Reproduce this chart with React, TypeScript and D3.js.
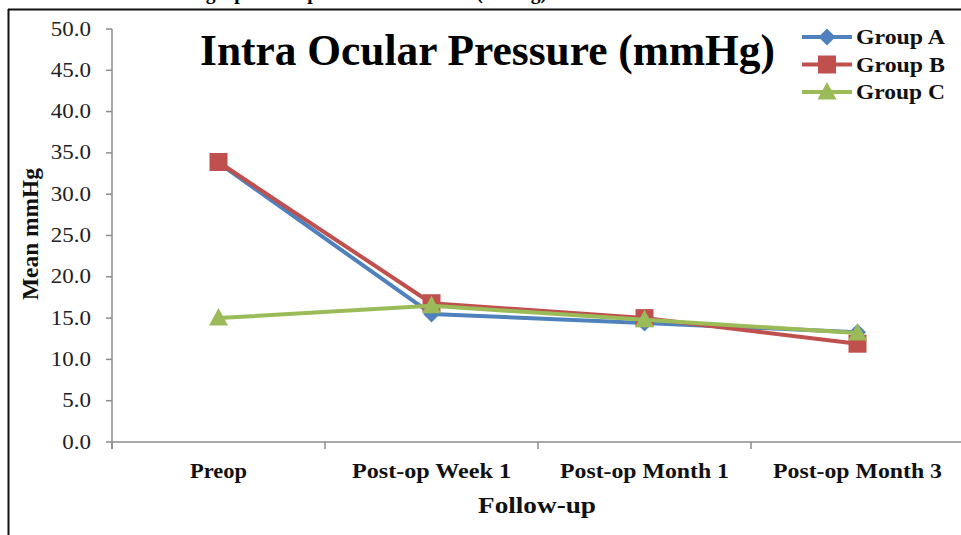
import React from "react";
import * as d3 from "d3";

const categories = ["Preop", "Post-op Week 1", "Post-op Month 1", "Post-op Month 3"];
const groupA = [33.8, 15.5, 14.4, 13.3];
const groupB = [33.9, 16.8, 15.0, 11.9];
const groupC = [15.0, 16.5, 14.8, 13.2];
const seriesNames = ["Group A", "Group B", "Group C"];
const yTicks = [0, 5, 10, 15, 20, 25, 30, 35, 40, 45, 50];
const xLabelWidths = [57, 159, 169, 169];

const colors = ["#4F81BD", "#C0504D", "#9BBB59"];
const serif = "'Liberation Serif', 'Times New Roman', serif";

function Marker({ kind, x, y, color }: { kind: number; x: number; y: number; color: string }) {
  if (kind === 0) {
    const r = 8.5;
    return <path d={`M${x},${y - r}L${x + r},${y}L${x},${y + r}L${x - r},${y}Z`} fill={color} />;
  }
  if (kind === 1) {
    const s = 9;
    return <rect x={x - s} y={y - s} width={2 * s} height={2 * s} fill={color} />;
  }
  const w = 9.5;
  return <path d={`M${x},${y - 10}L${x + w},${y + 7.5}L${x - w},${y + 7.5}Z`} fill={color} />;
}

export default function App() {
  const W = 961, H = 535;
  const x = d3.scaleBand<string>().domain(categories).range([112, 964]).padding(0);
  const y = d3.scaleLinear().domain([0, 50]).range([442, 29]);
  const data = [groupA, groupB, groupC];
  const line = d3
    .line<number>()
    .x((_, i) => (x(categories[i]) as number) + x.bandwidth() / 2)
    .y((d) => y(d));

  const boundaries = categories.map((c) => x(c) as number);

  return (
    <svg
      width={W}
      height={H}
      style={{ position: "absolute", left: 0, top: 0, background: "#fff" }}
      fontFamily={serif}
    >
      <rect x={0} y={0} width={W} height={H} fill="#fff" />
      {/* clipped caption */}
      <text
        x={4}
        y={-1}
        fontSize={20}
        fontWeight="bold"
        fill="#000"
        textLength={543}
        lengthAdjust="spacingAndGlyphs"
      >
        Table 2: Numerical and graphical representation of IOP (mmHg)
      </text>
      {/* frame */}
      <line x1={8} y1={9.5} x2={W} y2={9.5} stroke="#111" strokeWidth={2} />
      <line x1={8.5} y1={9} x2={8.5} y2={H} stroke="#111" strokeWidth={2} />

      {/* y axis */}
      <line x1={112} y1={y(50)} x2={112} y2={y(0) + 7} stroke="#8c8c8c" strokeWidth={1.5} />
      {yTicks.map((t) => (
        <g key={t}>
          <line x1={106} x2={112} y1={y(t)} y2={y(t)} stroke="#8c8c8c" strokeWidth={1.5} />
          <text
            transform={`translate(91,${y(t) + 6.5}) scale(1.15,1)`}
            textAnchor="end"
            fontSize={20}
            fill="#222"
          >
            {t.toFixed(1)}
          </text>
        </g>
      ))}
      {/* x axis */}
      <line x1={112} y1={y(0)} x2={W} y2={y(0)} stroke="#8c8c8c" strokeWidth={1.5} />
      {boundaries.map((b, i) => (
        <line key={i} x1={b} x2={b} y1={y(0)} y2={y(0) + 7} stroke="#8c8c8c" strokeWidth={1.5} />
      ))}
      {categories.map((c, i) => (
        <text
          key={c}
          x={(x(c) as number) + x.bandwidth() / 2}
          y={478}
          textAnchor="middle"
          fontSize={21}
          fontWeight="bold"
          fill="#111"
          textLength={xLabelWidths[i]}
          lengthAdjust="spacingAndGlyphs"
        >
          {c}
        </text>
      ))}
      <text
        x={537}
        y={513}
        textAnchor="middle"
        fontSize={24}
        fontWeight="bold"
        fill="#111"
        textLength={118}
        lengthAdjust="spacingAndGlyphs"
      >
        Follow-up
      </text>
      <text
        transform="translate(38,234) rotate(-90)"
        textAnchor="middle"
        fontSize={23}
        fontWeight="bold"
        fill="#111"
        textLength={132}
        lengthAdjust="spacingAndGlyphs"
      >
        Mean mmHg
      </text>

      {/* title */}
      <text
        x={200}
        y={65}
        fontSize={44}
        fontWeight="bold"
        fill="#000"
        textLength={575}
        lengthAdjust="spacingAndGlyphs"
      >
        Intra Ocular Pressure (mmHg)
      </text>

      {/* series */}
      {data.map((vals, s) => (
        <g key={s}>
          <path d={line(vals) || ""} fill="none" stroke={colors[s]} strokeWidth={4} strokeLinejoin="round" />
          {vals.map((v, i) => (
            <Marker
              key={i}
              kind={s}
              x={(x(categories[i]) as number) + x.bandwidth() / 2}
              y={y(v)}
              color={colors[s]}
            />
          ))}
        </g>
      ))}

      {/* legend */}
      {seriesNames.map((n, s) => {
        const ly = 37 + s * 27.5;
        return (
          <g key={n}>
            <line x1={802} x2={852} y1={ly} y2={ly} stroke={colors[s]} strokeWidth={4} />
            <Marker kind={s} x={827} y={ly} color={colors[s]} />
            <text
              x={856}
              y={ly + 7}
              fontSize={21}
              fontWeight="bold"
              fill="#111"
              textLength={89}
              lengthAdjust="spacingAndGlyphs"
            >
              {n}
            </text>
          </g>
        );
      })}
    </svg>
  );
}
